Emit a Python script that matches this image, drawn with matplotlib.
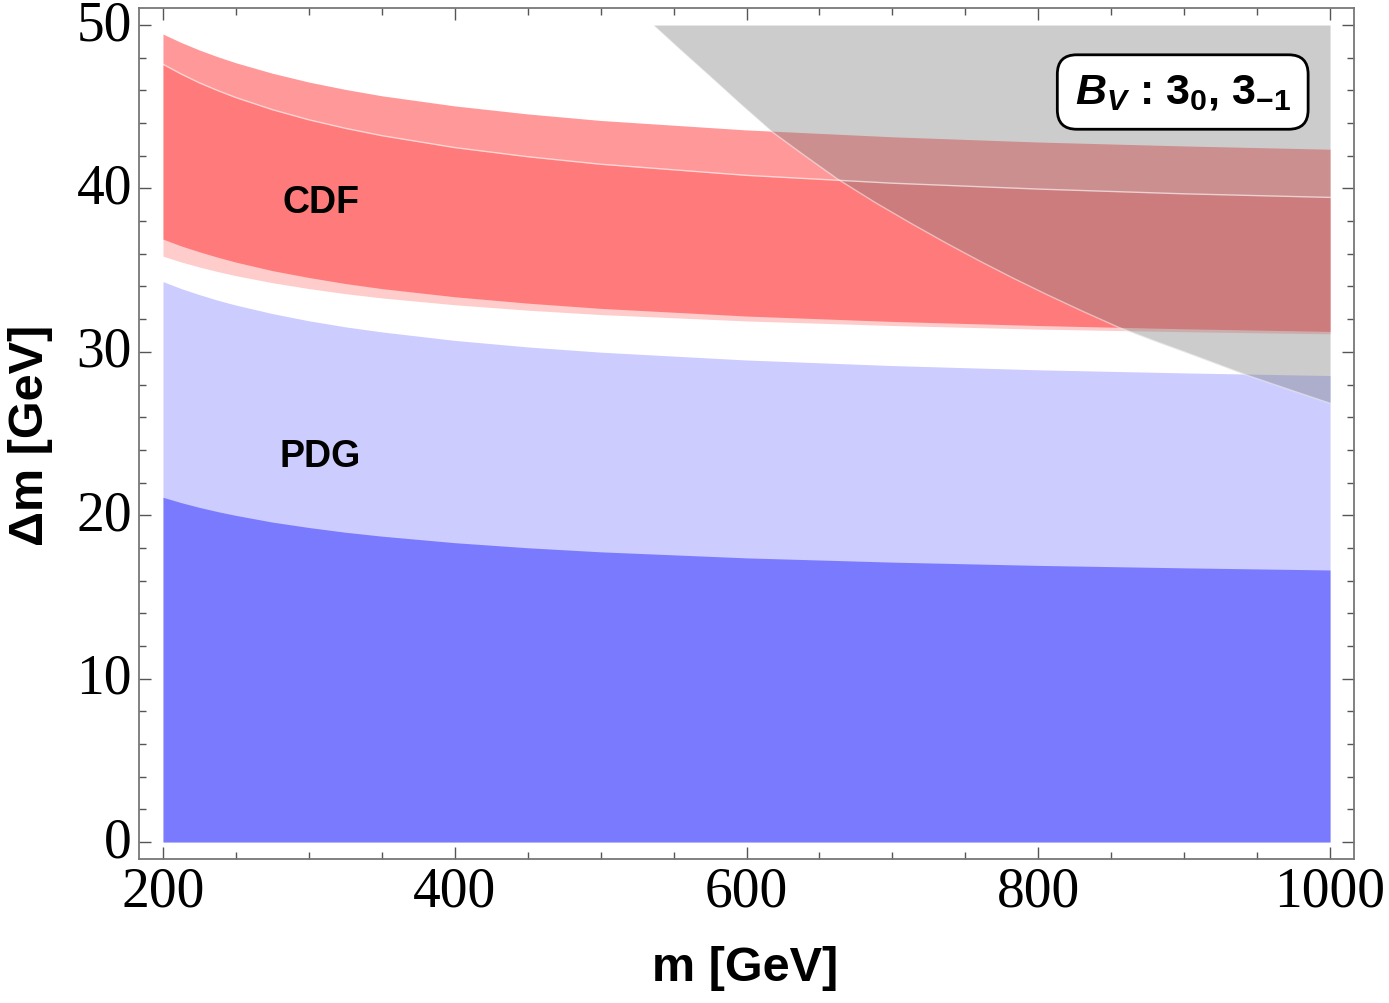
import matplotlib
matplotlib.use("Agg")
import matplotlib.pyplot as plt
from matplotlib.ticker import MultipleLocator

# mass grid (GeV) and band edges (GeV)
m_vals = [200, 212.5, 225, 237.5, 250, 275, 300, 325, 350, 400, 450, 500,
          600, 700, 800, 900, 1000]

cdf_outer_top = [49.45, 48.93, 48.47, 48.06, 47.69, 47.05, 46.51, 46.06, 45.67, 45.05,
                 44.56, 44.16, 43.58, 43.16, 42.84, 42.6, 42.4]
cdf_outer_low = [36.9, 36.48, 36.12, 35.79, 35.49, 34.97, 34.55, 34.18, 33.87, 33.37,
                 32.98, 32.66, 32.19, 31.86, 31.61, 31.41, 31.25]
cdf_inner_top = [47.6, 47.0, 46.46, 45.99, 45.56, 44.82, 44.2, 43.68, 43.23, 42.5,
                 41.94, 41.48, 40.8, 40.32, 39.96, 39.67, 39.45]
cdf_inner_low = [35.85, 35.5, 35.19, 34.91, 34.66, 34.23, 33.87, 33.56, 33.3, 32.88,
                 32.55, 32.28, 31.89, 31.61, 31.39, 31.23, 31.1]

pdg_top = [34.3, 33.87, 33.5, 33.16, 32.86, 32.34, 31.9, 31.53, 31.22, 30.7,
           30.3, 29.98, 29.5, 29.16, 28.9, 28.71, 28.55]
pdg_inner = [21.1, 20.77, 20.48, 20.22, 19.99, 19.58, 19.25, 18.96, 18.72, 18.32,
             18.01, 17.76, 17.39, 17.13, 16.93, 16.78, 16.65]

# excluded (gray) region lower edge
excl_m = [536, 555, 575, 596, 617, 640, 662, 688, 713, 737, 760, 783, 806, 830,
          855, 880, 900, 942, 970, 1000]
excl_dm = [50.0, 48.45, 46.85, 45.15, 43.5, 42.0, 40.6, 39.15, 37.85, 36.65, 35.55,
           34.5, 33.5, 32.5, 31.5, 30.65, 30.0, 28.6, 27.75, 26.85]

plt.rcParams["mathtext.fontset"] = "custom"
plt.rcParams["mathtext.rm"] = "Liberation Sans:bold"
plt.rcParams["mathtext.it"] = "Liberation Sans:bold:italic"
plt.rcParams["mathtext.bf"] = "Liberation Sans:bold"

fig = plt.figure(figsize=(13.89, 10.04), dpi=100)
ax = fig.add_axes([0.1001, 0.1434, 0.8747, 0.8476])

blue = "#0000ff"
red = "#ff0000"
zero = [0] * len(m_vals)

ax.fill_between(m_vals, zero, pdg_top, color=blue, alpha=0.2, lw=0)
ax.fill_between(m_vals, zero, pdg_inner, color=blue, alpha=0.4, lw=0)
ax.fill_between(m_vals, cdf_inner_low, cdf_inner_top, color=red, alpha=0.2, lw=0)
ax.fill_between(m_vals, cdf_outer_low, cdf_outer_top, color=red, alpha=0.4, lw=0)
ax.plot(m_vals, cdf_inner_top, color="white", alpha=0.6, lw=1.0)

ax.fill_between(excl_m, excl_dm, [50.0] * len(excl_m), color="#808080", alpha=0.4, lw=0)
ax.plot(excl_m, excl_dm, color="white", alpha=0.5, lw=1.0)

ax.text(308, 39.2, "CDF", fontsize=27, fontweight="bold", family="Liberation Sans",
        ha="center", va="center")
ax.text(308, 23.6, "PDG", fontsize=27, fontweight="bold", family="Liberation Sans",
        ha="center", va="center")

ax.text(899, 45.9, r"$B_V$ : $3_0$, $3_{-1}$", fontsize=31, fontweight="bold",
        family="Liberation Sans", ha="center", va="center",
        bbox=dict(boxstyle="round,pad=0.4,rounding_size=0.45", fc="white",
                  ec="black", lw=2))

ax.set_xlim(183.6, 1016.4)
ax.set_ylim(-1.04, 51.04)
ax.xaxis.set_major_locator(MultipleLocator(200))
ax.xaxis.set_minor_locator(MultipleLocator(50))
ax.yaxis.set_major_locator(MultipleLocator(10))
ax.yaxis.set_minor_locator(MultipleLocator(2))
ax.tick_params(which="both", direction="in", top=True, right=True, color="#555555",
               width=1.0)
ax.tick_params(which="major", length=8.6, labelsize=40, pad=5)
ax.tick_params(which="minor", length=5)
for lab in ax.get_xticklabels() + ax.get_yticklabels():
    lab.set_family("Liberation Serif")
for lab in ax.get_yticklabels():
    lab.set_va("center")
for sp in ax.spines.values():
    sp.set_color("#777777")
    sp.set_linewidth(1.3)

ax.set_xlabel("m [GeV]", fontsize=35, fontweight="bold", family="Liberation Sans")
ax.set_ylabel("Δm [GeV]", fontsize=35, fontweight="bold", family="Liberation Sans")
ax.xaxis.set_label_coords(0.499, -0.127)
ax.xaxis.label.set_va("center")
ax.yaxis.set_label_coords(-0.0897, 0.4994)
ax.yaxis.label.set_va("center")

fig.savefig("out.png", dpi=100)
